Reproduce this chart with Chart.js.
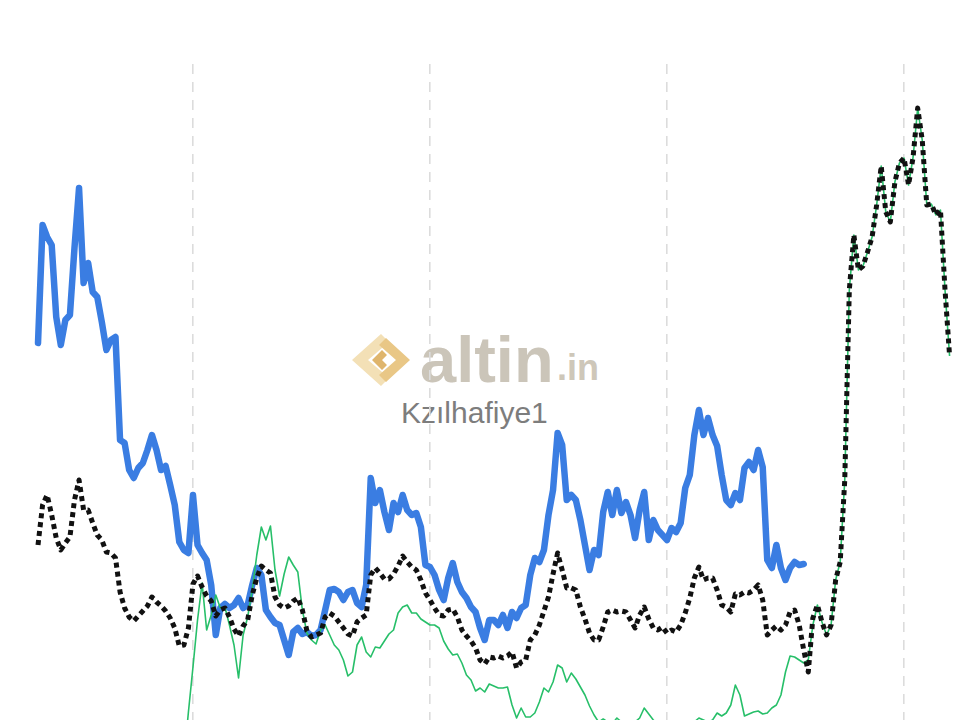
<!DOCTYPE html>
<html>
<head>
<meta charset="utf-8">
<script src="https://cdn.jsdelivr.net/npm/chart.js@4.4.1/dist/chart.umd.min.js"></script>
<style>
  html, body { margin: 0; padding: 0; background: #fff; overflow: hidden; }
  #wrap { position: relative; width: 953px; height: 720px; }
  #mark, #chart { position: absolute; left: 0; top: 0; }
</style>
</head>
<body>
<div id="wrap">
  <!-- watermark sits under the canvas, so the grid and lines draw over it -->
  <svg id="mark" width="953" height="720" xmlns="http://www.w3.org/2000/svg">
    <polygon points="381,334 352,360 381,386 389,378 368,360 389,342" fill="#f3e0b6"/>
    <polygon points="386,338 410,360 386,382 379,375 396,360 379,345" fill="#e9c786"/>
    <polygon points="382,350 372,360 382,370 387,365 382,360 387,355" fill="#dfb56c"/>
    <text x="420" y="382" font-family="'Liberation Sans', Arial, sans-serif" font-weight="bold" font-size="65" fill="#cbc5b9">altin</text>
    <text x="557" y="380" font-family="'Liberation Sans', Arial, sans-serif" font-weight="bold" font-size="36" fill="#cec7b9">.in</text>
    <text x="401" y="423" font-family="'Liberation Sans', Arial, sans-serif" font-size="30" fill="#7d7d7d">Kzılhafiye1</text>
  </svg>
  <canvas id="chart" width="953" height="720"></canvas>
</div>
<script>
// Weekly samples; week 0 is the first point of every series.
// Vertical dashed guides fall on these weeks (one per year).
const gridWeeks = [34, 86, 138, 190];

// Thick blue series, weeks 0..168
const blueSeries = [
  377, 495, 483, 475, 403, 375, 400, 405, 472, 532,
  437, 457, 428, 423, 398, 370, 380, 383, 280, 277,
  250, 242, 252, 257, 270, 285, 270, 250, 254, 235,
  215, 178, 170, 167, 225, 175, 167, 160, 135, 85,
  112, 116, 112, 115, 122, 112, 115, 135, 152, 145,
  110, 103, 97, 95, 80, 65, 88, 92, 86, 88,
  84, 85, 90, 110, 130, 131, 128, 120, 128, 130,
  117, 113, 135, 242, 217, 230, 208, 190, 217, 208,
  225, 210, 205, 207, 193, 155, 153, 145, 130, 120,
  142, 157, 138, 128, 122, 113, 108, 92, 80, 100,
  100, 95, 105, 92, 108, 102, 112, 115, 145, 162,
  158, 170, 205, 230, 287, 275, 220, 225, 220, 200,
  175, 150, 170, 165, 208, 228, 205, 230, 207, 218,
  205, 182, 210, 228, 180, 200, 190, 185, 180, 192,
  188, 197, 232, 245, 285, 310, 285, 302, 285, 274,
  245, 220, 215, 227, 220, 252, 258, 250, 270, 253,
  160, 152, 175, 152, 140, 152, 158, 155, 156
];

// Black dotted series, weeks 0..200
const blackSeries = [
  175, 215, 225, 205, 182, 170, 177, 183, 220, 240,
  210, 210, 197, 185, 180, 168, 167, 162, 128, 112,
  103, 99, 104, 109, 114, 123, 118, 114, 109, 102,
  92, 74, 75, 92, 136, 144, 133, 124, 119, 104,
  110, 112, 103, 91, 84, 94, 100, 125, 142, 154,
  150, 147, 123, 115, 112, 114, 119, 122, 110, 89,
  83, 85, 87, 103, 107, 104, 98, 92, 86, 84,
  98, 102, 105, 145, 152, 147, 141, 141, 146, 154,
  164, 158, 153, 150, 140, 127, 120, 112, 105, 104,
  110, 111, 103, 90, 84, 79, 72, 60, 56, 63,
  62, 64, 62, 64, 68, 52, 58, 60, 80, 85,
  95, 109, 123, 146, 167, 150, 132, 132, 130, 113,
  101, 87, 80, 80, 93, 108, 110, 108, 109, 108,
  100, 92, 105, 113, 101, 92, 90, 93, 87, 90,
  88, 95, 107, 122, 142, 153, 140, 142, 142, 130,
  115, 113, 108, 126, 125, 128, 127, 130, 135, 120,
  85, 90, 94, 90, 95, 108, 110, 95, 70, 48,
  102, 115, 98, 85, 95, 140, 158, 240, 430, 485,
  450, 454, 468, 483, 515, 554, 508, 498, 538, 557,
  562, 535, 563, 612, 580, 515, 516, 505, 510, 430,
  364
];

// Thin green series, starts at week 32 (enters from below the frame)
const greenStartWeek = 32;
const greenSeries = [
  -40, 8, 53, 100, 137, 90, 105, 125, 112, 113,
  95, 75, 42, 85, 103, 130, 165, 193, 180, 194,
  150, 124, 146, 163, 155, 148, 110, 87, 80, 76,
  90, 95, 85, 75, 70, 60, 44, 48, 75, 83,
  68, 63, 73, 72, 79, 86, 90, 107, 113, 115,
  107, 107, 101, 98, 95, 95, 92, 79, 71, 65,
  66, 57, 45, 40, 29, 32, 28, 36, 34, 32,
  32, 33, 15, 2, 12, 3, 3, 7, 18, 32,
  28, 38, 55, 52, 38, 47, 41, 33, 25, 14,
  5, -2, 1, -2, -4, 2, -2, -4, -5, -2,
  2, 12, 6, 0, -4, -6, -6, -5, -4, -6,
  -6, -4, -2, 2, 0, -2, 0, 7, 4, 7,
  15, 35, 25, 4, 6, 8, 9, 6, 7, 12,
  15, 25, 48, 64, 63, 60, 57, 60, 95, 115,
  98, 85, 95, 140, 158, 240, 430, 485, 450, 454,
  468, 483, 515, 554, 508, 498, 538, 557, 562, 535,
  563, 612, 580, 515, 516, 505, 510, 430, 364
];

const BLUE = "#3a7de2";
const BLACK = "#111111";
const GREEN = "#27bf69";
const GRID_COLOR = "#dcdcdc";

function toPoints(values, startWeek) {
  return values.map((v, i) => ({ x: startWeek + i, y: v }));
}

const config = {
  type: "line",
  data: {
    datasets: [
      {
        // on top: dotted black (round joins, so sharp turns don't spike)
        label: "black",
        data: toPoints(blackSeries, 0),
        borderColor: BLACK,
        borderWidth: 5,
        borderDash: [5, 4],
        borderJoinStyle: "round",
        borderCapStyle: "butt",
        order: 0,
      },
      {
        label: "green",
        data: toPoints(greenSeries, greenStartWeek),
        borderColor: GREEN,
        borderWidth: 1.6,
        borderJoinStyle: "round",
        order: 1,
      },
      {
        label: "blue",
        data: toPoints(blueSeries, 0),
        borderColor: BLUE,
        borderWidth: 6.5,
        borderJoinStyle: "round",
        borderCapStyle: "round",
        order: 2,
      },
    ],
  },
  options: {
    responsive: false,
    animation: false,
    events: [],
    layout: { padding: { top: 64, left: 0, right: 0, bottom: 0 } },
    elements: { point: { radius: 0 }, line: { tension: 0, fill: false } },
    scales: {
      x: {
        type: "linear",
        min: -8.34,
        max: 200.75,
        afterBuildTicks: (scale) => {
          scale.ticks = gridWeeks.map((w) => ({ value: w }));
        },
        ticks: { display: false },
        grid: { color: GRID_COLOR, lineWidth: 1.6, drawTicks: false },
        border: { display: false, dash: [10, 8] },
      },
      y: { display: false, min: 0, max: 656 },
    },
    plugins: { legend: { display: false }, tooltip: { enabled: false } },
  },
};

new Chart(document.getElementById("chart").getContext("2d"), config);
</script>
</body>
</html>
